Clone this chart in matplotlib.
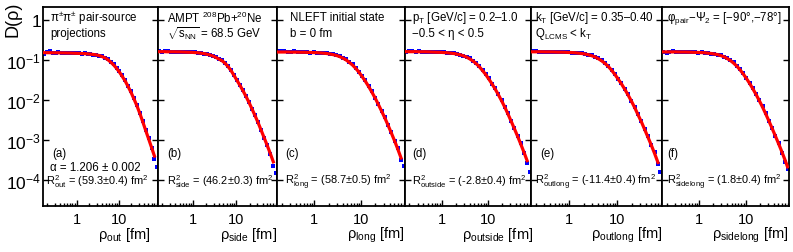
import matplotlib
matplotlib.use("Agg")
import matplotlib.pyplot as plt
from matplotlib.ticker import FixedLocator, FixedFormatter, NullLocator

plt.rcParams['font.family'] = ['Liberation Sans', 'DejaVu Sans']
plt.rcParams['mathtext.fontset'] = 'custom'
plt.rcParams['mathtext.rm'] = 'Liberation Sans'
plt.rcParams['mathtext.it'] = 'Liberation Sans:italic'
plt.rcParams['mathtext.bf'] = 'Liberation Sans:bold'
plt.rcParams['mathtext.sf'] = 'Liberation Sans'

ANCHO, ALTO = 793, 253

# rejilla de rho [fm] de los puntos
RHO = [0.17, 0.2, 0.23, 0.27, 0.32, 0.37, 0.44, 0.51, 0.6, 0.7,
       0.82, 0.96, 1.13, 1.32, 1.55, 1.82, 2.13, 2.5, 2.93, 3.43,
       4.0, 4.7, 5.5, 6.5, 7.6, 8.9, 10.4, 12.2, 14.3, 16.8,
       19.7, 23.1, 27.0, 31.7, 37.1, 43.5, 51.0, 59.8, 70.0, 79.0]

# puntos (azul) por panel
DATOS_OUT = [0.140, 0.158, 0.164, 0.150, 0.146, 0.157, 0.152, 0.150, 0.151, 0.147,
             0.149, 0.146, 0.147, 0.143, 0.145, 0.141, 0.141, 0.136, 0.135, 0.128,
             0.124, 0.113, 0.105, 0.090, 0.077, 0.064, 0.052, 0.041, 0.031, 0.0225,
             0.0162, 0.0110, 0.0074, 0.0048, 0.0030, 0.0018, 0.00112, 0.00062, 0.00033, 0.00021]
DATOS_SIDE = [0.166, 0.157, 0.162, 0.165, 0.160, 0.157, 0.161, 0.157, 0.159, 0.156,
              0.157, 0.153, 0.154, 0.150, 0.149, 0.144, 0.140, 0.133, 0.126, 0.116,
              0.107, 0.098, 0.085, 0.070, 0.056, 0.042, 0.032, 0.0238, 0.0172, 0.0125,
              0.0088, 0.0060, 0.0041, 0.0028, 0.00180, 0.00112, 0.00074, 0.00044, 0.00022, 0.00015]
DATOS_LONG = [0.162, 0.167, 0.163, 0.157, 0.155, 0.162, 0.158, 0.156, 0.155, 0.156,
              0.152, 0.154, 0.150, 0.151, 0.147, 0.146, 0.140, 0.137, 0.130, 0.123,
              0.112, 0.103, 0.088, 0.077, 0.062, 0.051, 0.039, 0.031, 0.0220, 0.0165,
              0.0112, 0.0080, 0.0053, 0.0038, 0.0023, 0.00158, 0.00092, 0.00061, 0.00032, 0.00022]
DATOS_OUTSIDE = [0.158, 0.164, 0.166, 0.159, 0.162, 0.158, 0.161, 0.157, 0.159, 0.155,
                 0.157, 0.153, 0.154, 0.150, 0.149, 0.145, 0.141, 0.135, 0.128, 0.119,
                 0.109, 0.096, 0.084, 0.069, 0.056, 0.044, 0.035, 0.0255, 0.0195, 0.0136,
                 0.0099, 0.0067, 0.0047, 0.0030, 0.00200, 0.00122, 0.00082, 0.00047, 0.00026, 0.00016]
DATOS_OUTLONG = [0.165, 0.162, 0.158, 0.161, 0.157, 0.160, 0.156, 0.159, 0.155, 0.158,
                 0.155, 0.154, 0.152, 0.151, 0.148, 0.145, 0.141, 0.136, 0.129, 0.121,
                 0.109, 0.098, 0.084, 0.071, 0.057, 0.045, 0.034, 0.026, 0.0190, 0.0138,
                 0.0095, 0.0067, 0.0043, 0.0030, 0.00186, 0.00122, 0.00072, 0.00048, 0.00025, 0.00016]
DATOS_SIDELONG = [0.155, 0.151, 0.156, 0.162, 0.157, 0.160, 0.155, 0.159, 0.158, 0.154,
                  0.156, 0.152, 0.154, 0.150, 0.149, 0.144, 0.142, 0.136, 0.130, 0.121,
                  0.111, 0.098, 0.086, 0.071, 0.058, 0.046, 0.036, 0.0265, 0.0196, 0.0140,
                  0.0099, 0.0068, 0.0046, 0.0030, 0.00198, 0.00126, 0.00083, 0.00047, 0.00027, 0.00019]

# ajuste (rojo) por panel
AJUSTE_OUT = [0.151, 0.151, 0.151, 0.150, 0.150, 0.150, 0.149, 0.149, 0.148, 0.148,
              0.147, 0.146, 0.145, 0.144, 0.143, 0.141, 0.139, 0.136, 0.133, 0.128,
              0.121, 0.112, 0.101, 0.087, 0.074, 0.061, 0.049, 0.038, 0.029, 0.021,
              0.0150, 0.0103, 0.0070, 0.0045, 0.0028, 0.0017, 0.00105, 0.00064, 0.00039]
AJUSTE_SIDE = [0.160, 0.160, 0.160, 0.159, 0.159, 0.159, 0.158, 0.158, 0.157, 0.156,
               0.155, 0.154, 0.152, 0.150, 0.147, 0.143, 0.138, 0.132, 0.124, 0.114,
               0.104, 0.095, 0.082, 0.067, 0.053, 0.040, 0.030, 0.0225, 0.0165, 0.0118,
               0.0083, 0.0057, 0.0039, 0.0026, 0.00170, 0.00110, 0.00071, 0.00045, 0.00028]
AJUSTE_LONG = [0.157, 0.157, 0.157, 0.157, 0.156, 0.156, 0.156, 0.155, 0.155, 0.154,
               0.153, 0.152, 0.151, 0.149, 0.147, 0.144, 0.140, 0.135, 0.129, 0.121,
               0.111, 0.100, 0.087, 0.074, 0.061, 0.049, 0.038, 0.029, 0.0215, 0.0155,
               0.0110, 0.0076, 0.0052, 0.0035, 0.0023, 0.00148, 0.00094, 0.00058, 0.00035]
AJUSTE_OUTSIDE = [0.160, 0.160, 0.160, 0.160, 0.159, 0.159, 0.159, 0.158, 0.157, 0.156,
                  0.155, 0.154, 0.152, 0.150, 0.147, 0.144, 0.139, 0.134, 0.126, 0.117,
                  0.106, 0.094, 0.081, 0.067, 0.054, 0.043, 0.033, 0.025, 0.0185, 0.0133,
                  0.0094, 0.0065, 0.0044, 0.0029, 0.0019, 0.00123, 0.00078, 0.00049, 0.00030]
AJUSTE_OUTLONG = [0.159, 0.159, 0.159, 0.159, 0.158, 0.158, 0.158, 0.157, 0.156, 0.156,
                  0.155, 0.153, 0.152, 0.150, 0.147, 0.144, 0.140, 0.134, 0.127, 0.118,
                  0.107, 0.095, 0.082, 0.068, 0.055, 0.043, 0.033, 0.025, 0.0183, 0.0131,
                  0.0092, 0.0063, 0.0042, 0.0028, 0.00180, 0.00115, 0.00073, 0.00045, 0.00027]
AJUSTE_SIDELONG = [0.158, 0.158, 0.158, 0.158, 0.158, 0.157, 0.157, 0.157, 0.156, 0.155,
                   0.154, 0.153, 0.152, 0.150, 0.147, 0.144, 0.140, 0.135, 0.128, 0.119,
                   0.108, 0.096, 0.083, 0.069, 0.056, 0.044, 0.034, 0.0255, 0.0187, 0.0134,
                   0.0094, 0.0065, 0.0044, 0.0029, 0.00190, 0.00123, 0.00079, 0.00050, 0.00031, 0.00021]

DATOS = [DATOS_OUT, DATOS_SIDE, DATOS_LONG, DATOS_OUTSIDE, DATOS_OUTLONG, DATOS_SIDELONG]
AJUSTES = [AJUSTE_OUT, AJUSTE_SIDE, AJUSTE_LONG, AJUSTE_OUTSIDE, AJUSTE_OUTLONG, AJUSTE_SIDELONG]

SUBINDICES = ["out", "side", "long", "outside", "outlong", "sidelong"]
R2_TEXTOS = ["(59.3±0.4)", "(46.2±0.3)", "(58.7±0.5)", "(-2.8±0.4)", "(-11.4±0.4)", "(1.8±0.4)"]
LETRAS = ["(a)", "(b)", "(c)", "(d)", "(e)", "(f)"]
TEXTOS_ARRIBA = [
    ["π$^{\\pm}$π$^{\\pm}$ pair-source", "projections"],
    ["AMPT $^{208}$Pb+$^{20}$Ne", "$\\sqrt{\\mathrm{s}_{\\mathrm{NN}}}$ = 68.5 GeV"],
    ["NLEFT initial state", "b = 0 fm"],
    ["p$_{\\mathrm{T}}$ [GeV/c] = 0.2–1.0", "−0.5 < η < 0.5"],
    ["k$_{\\mathrm{T}}$ [GeV/c] = 0.35–0.40", "Q$_{\\mathrm{LCMS}}$ < k$_{\\mathrm{T}}$"],
    ["φ$_{\\mathrm{pair}}$−Ψ$_{\\mathrm{2}}$ = [−90°,−78°]"],
]
ALFA_TEXTO = "α = 1.206 ± 0.002"

# bordes de los paneles en pixeles
BORDES_X = [43, 158, 277, 405, 531, 662, 789]
ARRIBA, ABAJO = 8, 207
X_TEXTO = [50, 167, 290, 412, 535, 667]
X_LETRA = [52, 167, 285, 412, 540, 667]
X_R2 = [46, 167, 285, 412, 535, 667]
X_TITULO = [150, 277, 405, 533, 663, 788]


def fx(px):
    return px / ANCHO


def fy(py):
    return 1 - py / ALTO


def pintarPanel(fig, i):
    izq, der = BORDES_X[i], BORDES_X[i + 1]
    ax = fig.add_axes([fx(izq), fy(ABAJO), fx(der - izq), (ABAJO - ARRIBA) / ALTO])
    ax.set_xscale('log')
    ax.set_yscale('log')
    ax.plot(RHO, DATOS[i], 's', color='#0000ff', ms=2.2, mew=0, zorder=2)
    ax.plot(RHO[:len(AJUSTES[i])], AJUSTES[i], '-', color='#ff0000', lw=2.3, zorder=3)
    ax.set_xlim(0.16, 85)
    ax.set_ylim(2.2e-5, 2.1)

    ax.xaxis.set_major_locator(FixedLocator([1, 10]))
    ax.xaxis.set_major_formatter(FixedFormatter(["1", "10"]))
    ax.yaxis.set_major_locator(FixedLocator([1e-4, 1e-3, 1e-2, 1e-1, 1]))
    ax.yaxis.set_minor_locator(NullLocator())
    if i == 0:
        ax.yaxis.set_major_formatter(FixedFormatter(
            ["10$^{\\mathrm{-4}}$", "10$^{\\mathrm{-3}}$", "10$^{\\mathrm{-2}}$",
             "10$^{\\mathrm{-1}}$", "1"]))
    else:
        ax.yaxis.set_major_formatter(FixedFormatter([""] * 5))
    ax.tick_params(which='both', direction='in', top=False, right=True, width=1.0)
    ax.tick_params(which='major', length=4.5)
    ax.tick_params(which='minor', length=2.2)
    ax.tick_params(axis='x', which='major', labelsize=10.5, pad=4)
    ax.tick_params(axis='y', which='major', labelsize=12.5, pad=1.5)
    for s in ax.spines.values():
        s.set_linewidth(1.3)

    # textos
    tam = 8.3
    for k, t in enumerate(TEXTOS_ARRIBA[i]):
        fig.text(fx(X_TEXTO[i]), fy(18 + 16 * k), t, fontsize=tam, ha='left', va='center')
    fig.text(fx(X_LETRA[i]), fy(154), LETRAS[i], fontsize=tam, ha='left', va='center')
    if i == 0:
        fig.text(fx(50), fy(168), ALFA_TEXTO, fontsize=tam, ha='left', va='center')
    fig.text(fx(X_R2[i]), fy(182),
             "R$^{\\mathrm{2}}_{\\mathrm{" + SUBINDICES[i] + "}}$ = " + R2_TEXTOS[i] + " fm$^{\\mathrm{2}}$",
             fontsize=7.9, ha='left', va='center')
    fig.text(fx(X_TITULO[i]), fy(239),
             "ρ$_{\\mathrm{" + SUBINDICES[i] + "}}$ [fm]",
             fontsize=10.5, ha='right', va='baseline')
    return ax


if __name__ == "__main__":
    fig = plt.figure(figsize=(ANCHO / 100, ALTO / 100), dpi=100)
    for i in range(6):
        pintarPanel(fig, i)
    fig.text(fx(13), fy(2), "D(ρ)", fontsize=13, rotation=90, ha='center', va='top')
    fig.savefig("out.png", dpi=100)
